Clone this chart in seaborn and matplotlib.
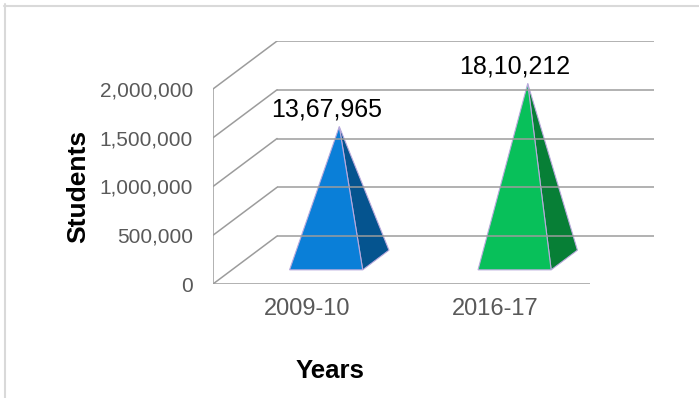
import matplotlib
matplotlib.use("Agg")
import matplotlib.pyplot as plt
from matplotlib.patches import Polygon
from matplotlib.lines import Line2D
import seaborn as sns

years = ["2009-10", "2016-17"]
students = [1367965, 1810212]
y_ticks = [0, 500000, 1000000, 1500000, 2000000]
front_colors = ["#0a7fd8", "#08c05a"]
side_colors = ["#05548f", "#077f36"]


def indian(n):
    # lakh style grouping: 13,67,965
    s = str(n)
    head, tail = s[:-3], s[-3:]
    parts = []
    while len(head) > 2:
        parts.insert(0, head[-2:])
        head = head[:-2]
    if head:
        parts.insert(0, head)
    return ",".join(parts + [tail])


sns.set_theme(style="white")
plt.rcParams["font.family"] = ["Liberation Sans", "DejaVu Sans"]

fig = plt.figure(figsize=(6.99, 3.98), dpi=100)
ax = fig.add_axes([213/699, 1 - 284/398, 441/699, 243/398])

# oblique depth of the 3d box
DX = 0.34
DY = 492000
x0, x1 = -0.5, len(years) - 0.5
ymax = y_ticks[-1]
grid = "#9c9c9c"
lw = 1.1

for v in y_ticks:
    ax.plot([x0 + DX, x1 + DX], [v + DY, v + DY], color=grid, lw=lw, solid_capstyle="butt")
    ax.plot([x0, x0 + DX], [v, v + DY], color=grid, lw=lw)
ax.plot([x0, x0], [0, ymax], color=grid, lw=lw)
ax.plot([x0, x1], [0, 0], color=grid, lw=lw, solid_capstyle="butt")

half_w = 0.194
t0, t1 = 0.295, 0.705
for i, (val, fc, sc) in enumerate(zip(students, front_colors, side_colors)):
    fl = (i - half_w + t0 * DX, t0 * DY)
    fr = (i + half_w + t0 * DX, t0 * DY)
    br = (i + half_w + t1 * DX, t1 * DY)
    apex = (i + 0.5 * DX, val + 0.5 * DY)
    ax.add_patch(Polygon([fr, br, apex], closed=True, fc=sc, ec="#b9a9dc", lw=0.8))
    ax.add_patch(Polygon([fl, fr, apex], closed=True, fc=fc, ec="#b9a9dc", lw=0.8))
    ax.annotate(indian(val), xy=(i + t0 * DX, apex[1]), xytext=(0, 7.2),
                textcoords="offset points", ha="center", va="baseline",
                fontsize=18, color="black")

ax.set_xlim(x0, x1 + DX)
ax.set_ylim(0, ymax + DY)
ax.set_xticks(range(len(years)), years, fontsize=17, color="#595959")
ax.set_yticks(y_ticks, [f"{v:,}" for v in y_ticks], fontsize=15, color="#595959")
ax.tick_params(length=0)
ax.tick_params(axis="y", pad=14.4)
ax.tick_params(axis="x", pad=10)
ax.grid(False)
sns.despine(ax=ax, left=True, bottom=True)

fig.text(85/699, 1 - 186/398, "Students", rotation=90, rotation_mode="anchor",
         ha="center", va="baseline", fontsize=19, fontweight="bold", color="black")
fig.text(330/699, 1 - 378/398, "Years", ha="center", va="baseline",
         fontsize=18.5, fontweight="bold", color="black")

# light frame on left and top
fig.add_artist(Line2D([5/699, 5/699], [0, 1 - 4/398], transform=fig.transFigure,
                      color="#d9d9d9", lw=1.5))
fig.add_artist(Line2D([4/699, 1], [1 - 5.5/398, 1 - 5.5/398], transform=fig.transFigure,
                      color="#d9d9d9", lw=1.5))

fig.savefig("out.png", dpi=100)
